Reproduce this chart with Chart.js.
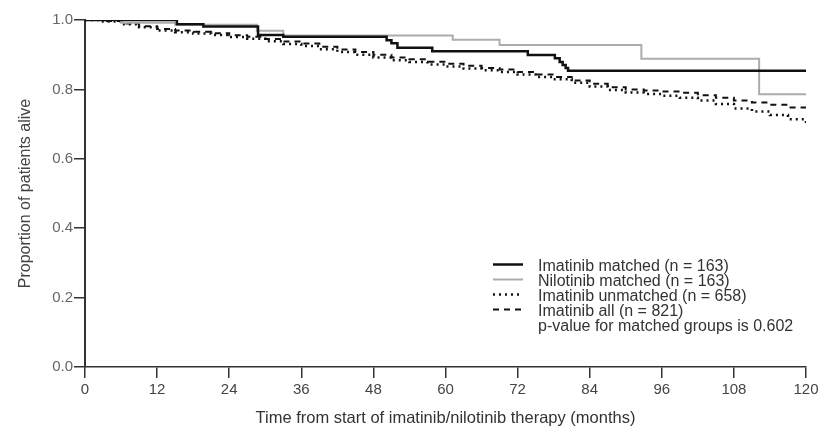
<!DOCTYPE html>
<html>
<head>
<meta charset="utf-8">
<script src="https://cdn.jsdelivr.net/npm/chart.js@4.4.1/dist/chart.umd.min.js"></script>
<style>
  html, body { margin: 0; padding: 0; background: #fff; }
  #km { display: block; }
</style>
</head>
<body>
<canvas id="km" width="818" height="433"></canvas>
<script>
// Kaplan-Meier survival, months vs proportion alive
const seriesNames = [
  'Imatinib matched (n = 163)',
  'Nilotinib matched (n = 163)',
  'Imatinib unmatched (n = 658)',
  'Imatinib all (n = 821)',
]
const pValueNote = 'p-value for matched groups is 0.602'

const monthTicks = [0, 12, 24, 36, 48, 60, 72, 84, 96, 108, 120]
const survivalTicks = [0, 0.2, 0.4, 0.6, 0.8, 1.0]

const imatMatchedMonths = [0, 15.3, 19.7, 28.8, 33, 50.2, 51, 52, 57.8, 73.7, 78.2, 79, 79.5, 80, 80.4, 120]
const imatMatchedSurv = [1, 0.988, 0.981, 0.957, 0.952, 0.942, 0.933, 0.92, 0.91, 0.899, 0.89, 0.879, 0.87, 0.862, 0.854, 0.854]

const niloMatchedMonths = [0, 6, 15, 28.6, 33, 61.2, 69, 92.6, 112.2, 120]
const niloMatchedSurv = [1, 0.992, 0.986, 0.969, 0.955, 0.943, 0.928, 0.888, 0.786, 0.786]

const imatUnmatchedMonths = [0, 3, 6, 9, 12, 15, 18, 21, 24, 27, 30, 33, 36, 39, 42, 45, 48, 51, 54, 57, 60,
  63, 66, 69, 72, 75, 78, 81, 84, 87, 90, 93, 96, 99, 102, 105, 108, 111, 114, 117, 120]
const imatUnmatchedSurv = [1, 0.996, 0.988, 0.979, 0.97, 0.965, 0.961, 0.957, 0.951, 0.946, 0.939, 0.931, 0.925,
  0.916, 0.908, 0.9, 0.892, 0.884, 0.879, 0.872, 0.866, 0.86, 0.855, 0.85, 0.843, 0.836, 0.829, 0.819, 0.808,
  0.798, 0.791, 0.787, 0.782, 0.776, 0.768, 0.758, 0.745, 0.736, 0.726, 0.714, 0.697]

const imatAllMonths = [0, 3, 6, 9, 12, 15, 18, 21, 24, 27, 30, 33, 36, 39, 42, 45, 48, 51, 54, 57, 60,
  63, 66, 69, 72, 75, 78, 81, 84, 87, 90, 93, 96, 99, 102, 105, 108, 111, 114, 117, 120]
const imatAllSurv = [1, 0.997, 0.99, 0.982, 0.974, 0.97, 0.966, 0.962, 0.956, 0.952, 0.945, 0.938, 0.932,
  0.923, 0.915, 0.908, 0.9, 0.892, 0.887, 0.88, 0.874, 0.868, 0.862, 0.857, 0.85, 0.843, 0.836, 0.826, 0.816,
  0.806, 0.8, 0.797, 0.794, 0.79, 0.783, 0.776, 0.768, 0.762, 0.756, 0.748, 0.738]

const lineStyles = [
  { color: '#111111', width: 2.5, dash: [] },
  { color: '#acacac', width: 2, dash: [] },
  { color: '#111111', width: 2.5, dash: [2, 4] },
  { color: '#111111', width: 2, dash: [6, 5] },
]

const toPoints = (xs, ys) => xs.map((x, i) => ({ x, y: ys[i] }))
const seriesData = [
  toPoints(imatMatchedMonths, imatMatchedSurv),
  toPoints(niloMatchedMonths, niloMatchedSurv),
  toPoints(imatUnmatchedMonths, imatUnmatchedSurv),
  toPoints(imatAllMonths, imatAllSurv),
]

const SANS = "'Liberation Sans', Arial, sans-serif"

// legend drawn in the lower right of the plot
const kmLegend = {
  id: 'kmLegend',
  afterDraw(chart) {
    const ctx = chart.ctx
    const right = chart.chartArea.right
    const sx0 = right - 313
    const sx1 = right - 283
    const tx = right - 268
    const rows = [266.5, 281.5, 296.5, 311.5, 326.5]
    ctx.save()
    ctx.font = '16px ' + SANS
    ctx.fillStyle = '#333'
    ctx.textBaseline = 'middle'
    seriesNames.forEach((name, i) => {
      const st = lineStyles[i]
      ctx.beginPath()
      ctx.strokeStyle = st.color
      ctx.lineWidth = st.width
      ctx.setLineDash(st.dash)
      ctx.moveTo(sx0, rows[i] - 2)
      ctx.lineTo(sx1, rows[i] - 2)
      ctx.stroke()
      ctx.fillText(name, tx, rows[i])
    })
    ctx.fillText(pValueNote, tx, rows[4])
    ctx.restore()
  },
}

new Chart(document.getElementById('km'), {
  type: 'line',
  data: {
    datasets: seriesNames.map((name, i) => ({
      label: name,
      data: seriesData[i],
      stepped: true,
      borderColor: lineStyles[i].color,
      borderWidth: lineStyles[i].width,
      borderDash: lineStyles[i].dash,
      borderCapStyle: 'butt',
      pointRadius: 0,
      fill: false,
    })),
  },
  options: {
    responsive: false,
    animation: false,
    layout: { padding: { top: 20, right: 12, left: 0, bottom: 0 } },
    plugins: {
      legend: { display: false },
      tooltip: { enabled: false },
    },
    scales: {
      x: {
        type: 'linear',
        min: 0,
        max: 120,
        afterBuildTicks: (scale) => {
          scale.ticks = monthTicks.map((v) => ({ value: v }))
        },
        afterFit: (scale) => {
          scale.height = 66
          // keep the "120" label from pulling the plot edge inwards
          scale.paddingLeft = 0
          scale.paddingRight = 0
        },
        ticks: {
          font: { family: SANS, size: 15 },
          color: '#444',
          padding: 3,
          maxRotation: 0,
        },
        grid: {
          drawOnChartArea: false,
          tickLength: 11,
          color: '#333',
          lineWidth: 1.5,
        },
        border: { color: '#333', width: 1.5 },
        title: {
          display: true,
          text: 'Time from start of imatinib/nilotinib therapy (months)',
          font: { family: SANS, size: 16.5 },
          color: '#333',
          padding: { top: 4, bottom: 5 },
        },
      },
      y: {
        min: 0,
        max: 1,
        afterBuildTicks: (scale) => {
          scale.ticks = survivalTicks.map((v) => ({ value: v }))
        },
        afterFit: (scale) => {
          scale.width = 85
        },
        ticks: {
          font: { family: SANS, size: 15 },
          color: '#666',
          padding: 1,
          callback: (v) => v.toFixed(1),
        },
        grid: {
          drawOnChartArea: false,
          tickLength: 11,
          color: '#333',
          lineWidth: 1.5,
        },
        border: { color: '#333', width: 2 },
        title: {
          display: true,
          text: 'Proportion of patients alive',
          font: { family: SANS, size: 16 },
          color: '#444',
          padding: { top: 16, bottom: 0 },
        },
      },
    },
  },
  plugins: [kmLegend],
})
</script>
</body>
</html>
